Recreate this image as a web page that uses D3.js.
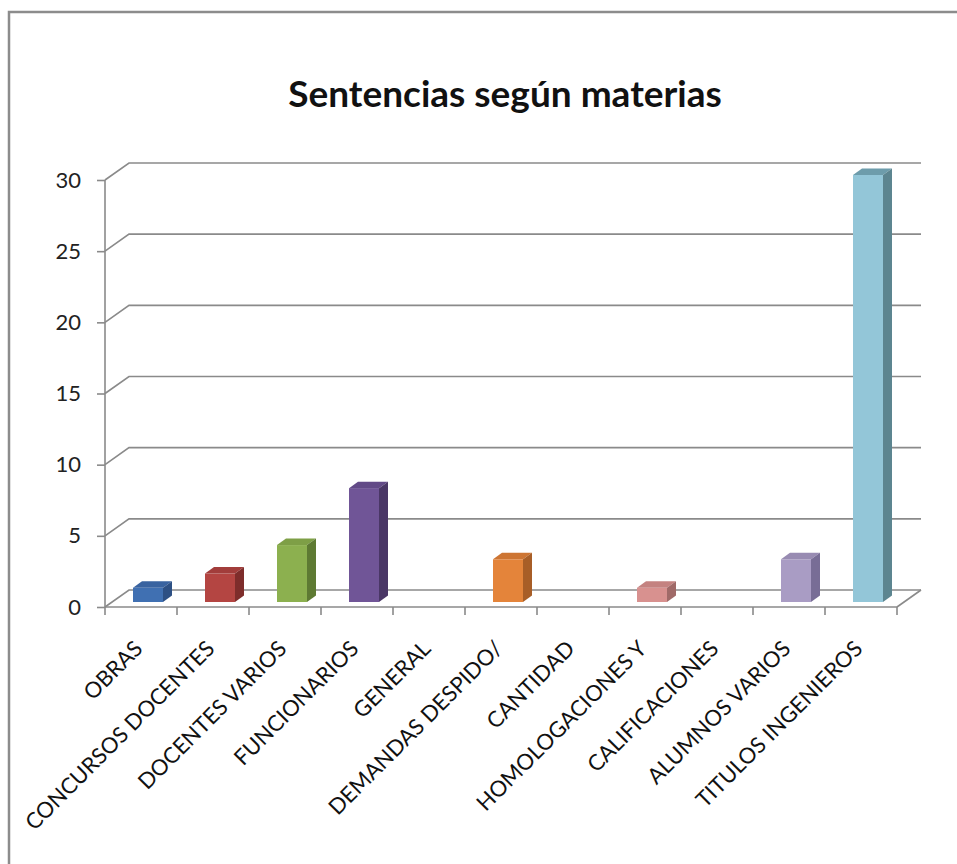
<!DOCTYPE html>
<html>
<head>
<meta charset="utf-8">
<script src="https://cdn.jsdelivr.net/npm/d3@7"></script>
<style>
  body { margin: 0; background: #fff; }
  svg { display: block; }
</style>
</head>
<body>
<div id="chart"></div>
<script>
// data
const categories = ['OBRAS', 'CONCURSOS DOCENTES', 'DOCENTES VARIOS', 'FUNCIONARIOS', 'GENERAL',
  'DEMANDAS DESPIDO/', 'CANTIDAD', 'HOMOLOGACIONES Y', 'CALIFICACIONES', 'ALUMNOS VARIOS', 'TITULOS INGENIEROS'];
const values = [1, 2, 4, 8, 0, 3, 0, 1, 0, 3, 30];
const yTicks = [0, 5, 10, 15, 20, 25, 30];
const title = 'Sentencias según materias';

// bar colours: front face, top face, side face
const frontColors = ['#4070b2', '#b44542', '#8cb04f', '#705597', '#4bacc6', '#e4843a',
  '#4f81bd', '#d8918f', '#9bbb59', '#a99cc4', '#93c6d8'];
const topColors = ['#3963a0', '#a23d3b', '#7e9f46', '#624a87', '#4298b0', '#cd7533',
  '#4673a9', '#c48280', '#8aa74f', '#988bb2', '#6d9cab'];
const sideColors = ['#2d5084', '#7e2d2b', '#5e7a33', '#4a3766', '#2f7386', '#a85e27',
  '#34577f', '#a06a68', '#667e3c', '#786d96', '#5c8590'];

const width = 957, height = 864;
const x0 = 105, x1 = 897;          // front floor edge
const yBottom = 607, yTop = 180;   // front plane, value 0 and 30
const depth = { dx: 24, dy: -17 }; // floor depth
const barOff = { dx: 7, dy: -5 };  // bar front plane
const barDepth = { dx: 9, dy: -6.5 };
const barWidth = 30;
const gridColor = '#8a8a8a';
const font = 'Lato, "Open Sans", sans-serif';

const xScale = d3.scaleBand().domain(categories).range([x0, x1]);
const yScale = d3.scaleLinear().domain([0, 30]).range([yBottom, yTop]);

const svg = d3.select('#chart')
  .append('svg')
  .attr('width', width)
  .attr('height', height);

// outer frame (top and left edges only visible)
svg.append('path')
  .attr('d', `M9,${height} L9,12 L${width},12`)
  .attr('fill', 'none')
  .attr('stroke', '#8c8c8c')
  .attr('stroke-width', 2.5);

// title
svg.append('text')
  .attr('x', 505)
  .attr('y', 107)
  .attr('text-anchor', 'middle')
  .attr('font-family', font)
  .attr('font-weight', 'bold')
  .attr('font-size', 37)
  .attr('fill', '#111')
  .text(title);

const grid = svg.append('g')
  .attr('stroke', gridColor)
  .attr('stroke-width', 1.6)
  .attr('fill', 'none');

// back wall gridlines + the diagonal on the side wall
yTicks.forEach((t) => {
  const y = yScale(t);
  grid.append('path')
    .attr('d', `M${x0},${y} L${x0 + depth.dx},${y + depth.dy} L${x1 + depth.dx},${y + depth.dy}`);
});

// right floor edge
grid.append('path')
  .attr('d', `M${x1},${yBottom} L${x1 + depth.dx},${yBottom + depth.dy}`);

// bars
const bars = svg.append('g')
  .selectAll('g')
  .data(categories.map((c, i) => ({ cat: c, value: values[i], i })))
  .enter()
  .filter((d) => d.value > 0)
  .append('g');

const faceX = (d) => xScale(d.cat) + xScale.bandwidth() / 2 + barOff.dx - barWidth / 2;
const faceTop = (d) => yScale(d.value) + barOff.dy;
const faceBottom = yScale(0) + barOff.dy;

bars.append('rect')
  .attr('x', faceX)
  .attr('y', faceTop)
  .attr('width', barWidth)
  .attr('height', (d) => faceBottom - faceTop(d))
  .attr('fill', (d) => frontColors[d.i]);

bars.append('path')
  .attr('d', (d) => {
    const xl = faceX(d), xr = xl + barWidth, yt = faceTop(d);
    return `M${xl},${yt} L${xl + barDepth.dx},${yt + barDepth.dy} L${xr + barDepth.dx},${yt + barDepth.dy} L${xr},${yt}Z`;
  })
  .attr('fill', (d) => topColors[d.i]);

bars.append('path')
  .attr('d', (d) => {
    const xr = faceX(d) + barWidth, yt = faceTop(d);
    return `M${xr},${yt} L${xr + barDepth.dx},${yt + barDepth.dy} L${xr + barDepth.dx},${faceBottom + barDepth.dy} L${xr},${faceBottom}Z`;
  })
  .attr('fill', (d) => sideColors[d.i]);

// front y axis
svg.append('g')
  .attr('transform', `translate(${x0},0)`)
  .call(d3.axisLeft(yScale).tickValues(yTicks).tickSize(8).tickPadding(16))
  .call((g) => g.select('.domain').attr('stroke', gridColor).attr('stroke-width', 1.6).attr('d', `M0,${yBottom}V${yTop}`))
  .call((g) => g.selectAll('.tick line').attr('stroke', gridColor).attr('stroke-width', 1.6))
  .call((g) => g.selectAll('.tick text')
    .attr('font-family', font)
    .attr('font-size', 22)
    .attr('fill', '#222'));

// front x axis
const xAxis = svg.append('g')
  .attr('transform', `translate(0,${yBottom})`);

xAxis.append('path')
  .attr('d', `M${x0},0 H${x1}`)
  .attr('stroke', gridColor)
  .attr('stroke-width', 1.6);

xAxis.selectAll('.xtick')
  .data(categories.map((c) => xScale(c)).concat([x1]))
  .enter()
  .append('line')
  .attr('x1', (d) => d)
  .attr('x2', (d) => d)
  .attr('y1', 0)
  .attr('y2', 8)
  .attr('stroke', gridColor)
  .attr('stroke-width', 1.6);

xAxis.selectAll('.xlabel')
  .data(categories)
  .enter()
  .append('text')
  .attr('transform', (d) => `translate(${xScale(d) + xScale.bandwidth() / 2 + 3},${43}) rotate(-45)`)
  .attr('text-anchor', 'end')
  .attr('font-family', font)
  .attr('font-size', 22)
  .attr('fill', '#111')
  .text((d) => d);
</script>
</body>
</html>
